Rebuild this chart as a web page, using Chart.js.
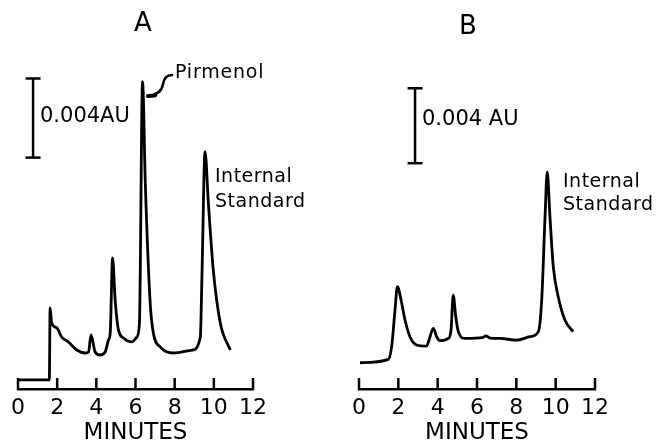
<!DOCTYPE html>
<html>
<head>
<meta charset="utf-8">
<script src="https://cdn.jsdelivr.net/npm/chart.js@4.4.1/dist/chart.umd.min.js"></script>
<style>
  html, body { margin: 0; padding: 0; background: #fff; }
  body { width: 657px; height: 445px; position: relative; overflow: hidden; }
  canvas { position: absolute; top: 0; }
  #panelA { left: 0; }
  #panelB { left: 330px; }
</style>
</head>
<body>
<canvas id="panelA" width="330" height="445"></canvas>
<canvas id="panelB" width="327" height="445"></canvas>
<script>
// trace A : sample with pirmenol, absorbance in mAU (0.004 AU = 4)
const minutesA = [0, 1.6, 1.64, 1.72, 1.98, 2.23, 2.57, 3.0, 3.43, 3.6, 3.73, 3.94, 4.19, 4.45, 4.62, 4.71, 4.83, 4.96, 5.13, 5.39, 5.81, 6.07, 6.2, 6.36, 6.5, 6.75, 6.91, 7.26, 7.93, 8.9, 9.31, 9.4, 9.55, 9.72, 9.97, 10.33, 10.84];
const absA = [0.46, 0.46, 4.10, 3.34, 3.09, 2.63, 2.38, 1.97, 1.82, 1.87, 2.73, 1.87, 1.72, 1.87, 2.48, 2.84, 6.63, 4.51, 2.99, 2.58, 2.38, 2.63, 3.3, 15.54, 10.43, 4.35, 2.84, 2.13, 1.82, 1.97, 2.63, 6.03, 12.0, 9.42, 6.03, 3.34, 1.97];

// trace B : blank with internal standard only
const minutesB = [0.05, 1.49, 1.66, 1.83, 1.95, 2.17, 2.34, 2.59, 2.93, 3.44, 3.56, 3.78, 3.95, 4.12, 4.54, 4.68, 4.79, 4.92, 5.05, 5.39, 6.32, 6.45, 6.66, 7.17, 8.02, 8.69, 9.12, 9.29, 9.46, 9.57, 9.71, 9.88, 10.13, 10.47, 10.89];
const absB = [1.40, 1.58, 2.26, 4.21, 5.46, 4.59, 3.68, 2.79, 2.35, 2.29, 2.61, 3.24, 2.79, 2.58, 2.70, 3.15, 5.01, 3.86, 3.06, 2.70, 2.76, 2.84, 2.72, 2.70, 2.61, 2.79, 3.06, 4.75, 9.19, 11.59, 9.19, 6.52, 4.92, 3.68, 3.06];

const tickMinutes = [0, 2, 4, 6, 8, 10, 12];

// 0.004 AU scale bars (from, to) and where they sit on the time axis
const scaleBarA = [11.7, 15.7];
const scaleBarB = [12.05, 16.05];
const scaleBarMinA = 0.77;
const scaleBarMinB = 2.85;

const FONT = 'DejaVu Sans';

// tick marks pointing up from the axis line
const inwardTicks = {
  id: 'inwardTicks',
  afterDraw(chart) {
    const { ctx, chartArea } = chart;
    const x = chart.scales.x;
    ctx.save();
    ctx.strokeStyle = '#000';
    ctx.lineWidth = 2.5;
    tickMinutes.forEach(m => {
      const px = x.getPixelForValue(m);
      ctx.beginPath();
      ctx.moveTo(px, chartArea.bottom + 1);
      ctx.lineTo(px, chartArea.bottom - 11);
      ctx.stroke();
    });
    ctx.restore();
  }
};

function notesPlugin(notes, extra) {
  return {
    id: 'notes',
    afterDraw(chart) {
      const ctx = chart.ctx;
      ctx.save();
      ctx.fillStyle = '#000';
      ctx.textBaseline = 'middle';
      notes.forEach(n => {
        ctx.font = n.size + 'px "' + FONT + '"';
        ctx.textAlign = n.align || 'left';
        ctx.letterSpacing = (n.spacing || 0) + 'px';
        ctx.fillText(n.text, n.x, n.y);
      });
      if (extra) extra(ctx);
      ctx.restore();
    }
  };
}

function makeChart(id, minutes, absorb, yMax, padL, padR, bar, barAt, plugin) {
  new Chart(document.getElementById(id), {
    type: 'line',
    data: {
      datasets: [
        {
          data: minutes.map((m, i) => ({ x: m, y: absorb[i] })),
          borderColor: '#000',
          borderWidth: 2.8,
          pointRadius: 0,
          cubicInterpolationMode: 'monotone',
          fill: false
        },
        {
          data: bar.map(v => ({ x: barAt, y: v })),
          borderColor: '#000',
          borderWidth: 2.5,
          pointStyle: 'line',
          pointRadius: 7.5,
          pointBorderWidth: 2.5,
          pointBorderColor: '#000'
        }
      ]
    },
    options: {
      responsive: false,
      animation: false,
      layout: { padding: { left: padL, right: padR, top: 33, bottom: 0 } },
      plugins: { legend: { display: false }, tooltip: { enabled: false } },
      scales: {
        x: {
          type: 'linear',
          min: 0,
          max: 12,
          afterBuildTicks: s => { s.ticks = tickMinutes.map(v => ({ value: v })); },
          afterFit: s => { s.height = 56; },
          grid: { display: false, drawTicks: false },
          border: { display: true, color: '#000', width: 2.5 },
          ticks: { color: '#000', font: { family: FONT, size: 22 }, padding: 6, maxRotation: 0 },
          title: {
            display: true,
            text: 'MINUTES',
            color: '#000',
            font: { family: FONT, size: 23, lineHeight: 1 },
            padding: { top: 0, bottom: 0 }
          }
        },
        y: { display: false, min: 0, max: yMax }
      }
    },
    plugins: [inwardTicks, plugin]
  });
}

makeChart('panelA', minutesA, absA, 18, 18, 77, scaleBarA, scaleBarMinA, notesPlugin([
  { text: 'A', x: 143, y: 24, size: 26, align: 'center' },
  { text: '0.004AU', x: 40, y: 117, size: 21 },
  { text: 'Pirmenol', x: 175, y: 73, size: 19, spacing: 0.8 },
  { text: 'Internal', x: 215, y: 177, size: 19, spacing: 0.5 },
  { text: 'Standard', x: 215, y: 202, size: 19, spacing: 0.5 }
], ctx => {
  // hand drawn leader from label to peak
  ctx.strokeStyle = '#000';
  ctx.lineWidth = 2.5;
  ctx.lineCap = 'round';
  ctx.beginPath();
  ctx.moveTo(148, 96);
  ctx.bezierCurveTo(158, 95, 162, 91, 163, 84);
  ctx.bezierCurveTo(164, 78, 167, 75, 172, 75);
  ctx.stroke();
  ctx.lineWidth = 4;
  ctx.beginPath();
  ctx.moveTo(148, 96);
  ctx.lineTo(155, 95.5);
  ctx.stroke();
}));

makeChart('panelB', minutesB, absB, 19, 29, 62, scaleBarB, scaleBarMinB, notesPlugin([
  { text: 'B', x: 138, y: 27, size: 26, align: 'center' },
  { text: '0.004 AU', x: 92, y: 120, size: 21 },
  { text: 'Internal', x: 233, y: 182, size: 19, spacing: 0.5 },
  { text: 'Standard', x: 233, y: 205, size: 19, spacing: 0.5 }
]));
</script>
</body>
</html>
